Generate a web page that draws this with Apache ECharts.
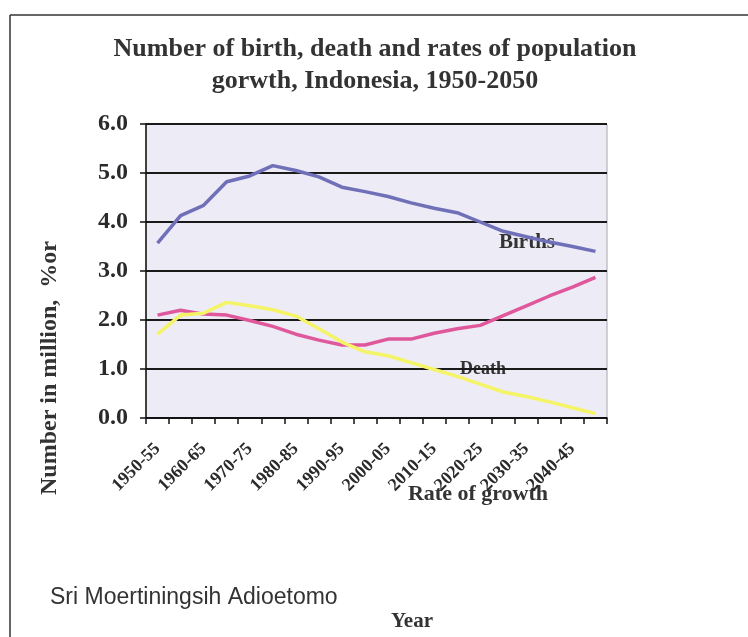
<!DOCTYPE html>
<html>
<head>
<meta charset="utf-8">
<title>Birth, death and population growth, Indonesia 1950-2050</title>
<script src="https://cdn.jsdelivr.net/npm/echarts@6/dist/echarts.min.js"></script>
<style>
  html, body { margin: 0; padding: 0; background: #ffffff; }
  #chart { width: 748px; height: 637px; }
</style>
</head>
<body>
<div id="chart"></div>
<script>
// Five-year periods, 1950-55 to 2045-50
const periods = [
  '1950-55', '1955-60', '1960-65', '1965-70', '1970-75',
  '1975-80', '1980-85', '1985-90', '1990-95', '1995-00',
  '2000-05', '2005-10', '2010-15', '2015-20', '2020-25',
  '2025-30', '2030-35', '2035-40', '2040-45', '2045-50'
];

// Births (million)
const births = [
  3.57, 4.13, 4.34, 4.82, 4.94, 5.15, 5.05, 4.92, 4.71, 4.62,
  4.52, 4.39, 4.28, 4.19, 4.00, 3.81, 3.70, 3.59, 3.50, 3.40
];

// Deaths (million)
const deaths = [
  2.10, 2.20, 2.12, 2.10, 1.99, 1.87, 1.71, 1.59, 1.49, 1.49,
  1.61, 1.61, 1.73, 1.82, 1.89, 2.09, 2.29, 2.49, 2.67, 2.87
];

// Rate of population growth (%)
const growthRate = [
  1.71, 2.10, 2.14, 2.36, 2.29, 2.21, 2.08, 1.82, 1.55, 1.35,
  1.27, 1.13, 0.99, 0.85, 0.69, 0.53, 0.44, 0.33, 0.21, 0.09
];

const yTicks = { min: 0, max: 6, step: 1 };

const serif = '"Liberation Serif", "Times New Roman", serif';
const sans = '"Liberation Sans", Arial, sans-serif';

const chart = echarts.init(document.getElementById('chart'));

chart.setOption({
  animation: false,
  backgroundColor: '#ffffff',
  grid: {
    left: 146, right: 141, top: 124, bottom: 219,
    show: true,
    backgroundColor: '#edebf5',
    borderColor: '#a8a8a8',
    borderWidth: 1
  },
  xAxis: {
    type: 'category',
    data: periods,
    boundaryGap: true,
    axisLine: { show: true, lineStyle: { color: '#111', width: 1.5 } },
    axisTick: { show: true, interval: 0, length: 6, lineStyle: { color: '#111', width: 1.5 } },
    axisLabel: {
      interval: 1,
      rotate: 45,
      margin: 28,
      color: '#2a2a2a',
      fontFamily: serif,
      fontWeight: 'bold',
      fontSize: 18
    },
    splitLine: { show: false }
  },
  yAxis: {
    type: 'value',
    min: yTicks.min,
    max: yTicks.max,
    interval: yTicks.step,
    axisLine: { show: true, lineStyle: { color: '#111', width: 1.5 } },
    axisTick: { show: true, length: 6, lineStyle: { color: '#111', width: 1.5 } },
    axisLabel: {
      margin: 18,
      color: '#2a2a2a',
      fontFamily: serif,
      fontWeight: 'bold',
      fontSize: 24,
      formatter: v => v.toFixed(1)
    },
    splitLine: { show: true, lineStyle: { color: '#1a1a1a', width: 2 } }
  },
  series: [
    {
      name: 'Births', type: 'line', data: births,
      symbol: 'none', lineStyle: { color: '#7070b8', width: 3.5 }
    },
    {
      name: 'Death', type: 'line', data: deaths,
      symbol: 'none', lineStyle: { color: '#e0589c', width: 3.5 }
    },
    {
      name: 'Rate of growth', type: 'line', data: growthRate,
      symbol: 'none', lineStyle: { color: '#f4f466', width: 3.5 }
    }
  ],
  graphic: [
    // outer frame (top and left edges)
    { type: 'line', shape: { x1: 10, y1: 15, x2: 748, y2: 15 }, style: { stroke: '#333', lineWidth: 1.5 }, silent: true },
    { type: 'line', shape: { x1: 10, y1: 15, x2: 10, y2: 637 }, style: { stroke: '#333', lineWidth: 1.5 }, silent: true },
    // title, two lines
    {
      type: 'text', x: 375, y: 49,
      style: { text: 'Number of birth, death and rates of population', font: 'bold 26px ' + serif,
               fill: '#333', textAlign: 'center', textVerticalAlign: 'middle' }
    },
    {
      type: 'text', x: 375, y: 81,
      style: { text: 'gorwth, Indonesia, 1950-2050', font: 'bold 26px ' + serif,
               fill: '#333', textAlign: 'center', textVerticalAlign: 'middle' }
    },
    // y-axis title
    {
      type: 'text', x: 50, y: 368, rotation: Math.PI / 2,
      style: { text: 'Number in million,  %or', font: 'bold 24px ' + serif,
               fill: '#333', textAlign: 'center', textVerticalAlign: 'middle' }
    },
    // series annotations
    {
      type: 'text', x: 527, y: 243,
      style: { text: 'Births', font: 'bold 21px ' + serif, fill: '#333',
               textAlign: 'center', textVerticalAlign: 'middle' }
    },
    {
      type: 'text', x: 483, y: 369,
      style: { text: 'Death', font: 'bold 18px ' + serif, fill: '#333',
               textAlign: 'center', textVerticalAlign: 'middle' }
    },
    {
      type: 'text', x: 478, y: 494,
      style: { text: 'Rate of growth', font: 'bold 22px ' + serif, fill: '#333',
               textAlign: 'center', textVerticalAlign: 'middle' }
    },
    // author credit
    {
      type: 'text', x: 50, y: 598,
      style: { text: 'Sri Moertiningsih Adioetomo', font: '23px ' + sans, fill: '#333',
               textAlign: 'left', textVerticalAlign: 'middle' }
    },
    // x-axis title
    {
      type: 'text', x: 412, y: 622,
      style: { text: 'Year', font: 'bold 21px ' + serif, fill: '#333',
               textAlign: 'center', textVerticalAlign: 'middle' }
    }
  ]
});
</script>
</body>
</html>
